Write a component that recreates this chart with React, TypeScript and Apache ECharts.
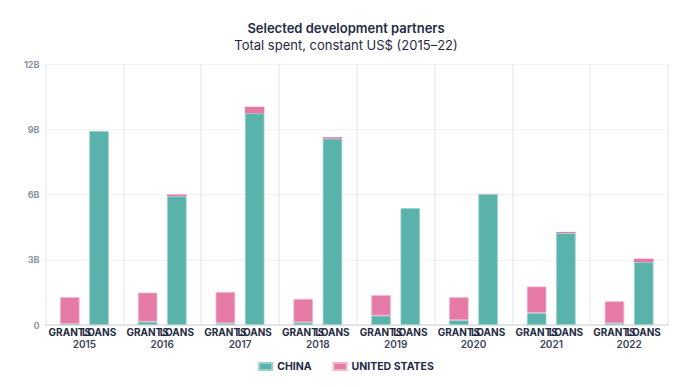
import React, { useEffect, useRef } from "react";
import * as echarts from "echarts";

const years = ["2015", "2016", "2017", "2018", "2019", "2020", "2021", "2022"];
const chinaGrants = [0.05, 0.15, 0.08, 0.12, 0.43, 0.22, 0.55, 0.08];
const usGrants = [1.23, 1.34, 1.44, 1.08, 0.94, 1.06, 1.22, 1.01];
const chinaLoans = [8.92, 5.92, 9.74, 8.57, 5.37, 6.02, 4.23, 2.89];
const usLoans = [0, 0.08, 0.29, 0.07, 0, 0.01, 0.05, 0.16];
const yTicks = [0, 3, 6, 9, 12];

const TEAL = "#5ab3aa";
const PINK = "#e67aa7";
const TEAL_EDGE = "#9ad0ca";
const PINK_EDGE = "#f3b3cd";
const FONT = "Inter, 'Noto Sans', sans-serif";

export default function App() {
  const ref = useRef<HTMLDivElement>(null);
  useEffect(() => {
    if (!ref.current) return;
    const chart = echarts.init(ref.current, null, { renderer: "svg" });
    const barBase = {
      type: "bar",
      barWidth: 19.5,
      barGap: "50%",
    };
    const subLabel = (text: string) => ({
      show: true,
      position: "bottom",
      distance: 2,
      formatter: text,
      color: "#1f2a44",
      fontFamily: FONT,
      fontWeight: 700,
      fontSize: 10,
    });
    const edge = (c: string) => ({ borderColor: c, borderWidth: 0.8 });
    chart.setOption({
      animation: false,
      title: {
        text: "Selected development partners",
        subtext: "Total spent, constant US$ (2015–22)",
        left: "center",
        top: 16,
        itemGap: 4,
        textStyle: { fontFamily: FONT, fontSize: 13, fontWeight: 600, color: "#1f2a44" },
        subtextStyle: { fontFamily: FONT, fontSize: 13, fontWeight: 400, color: "#1f2a44" },
      },
      legend: {
        top: 356,
        left: "center",
        itemWidth: 13,
        itemHeight: 7,
        itemGap: 21,
        icon: "rect",
        data: ["CHINA", "UNITED STATES"],
        textStyle: { fontFamily: FONT, fontSize: 10.5, fontWeight: 700, color: "#1f2a44" },
      },
      grid: { left: 45.5, right: 24, top: 64, bottom: 62, containLabel: false },
      xAxis: {
        type: "category",
        data: years,
        axisTick: { show: false },
        axisLine: { lineStyle: { color: "#dcdde1", width: 1.5 } },
        splitLine: { show: true, interval: 0, lineStyle: { color: "#ececef", width: 1.5 } },
        axisLabel: { margin: 14, fontFamily: FONT, fontSize: 10, fontWeight: 600, color: "#3b4458", interval: 0 },
      },
      yAxis: {
        type: "value",
        min: yTicks[0],
        max: yTicks[yTicks.length - 1],
        interval: 3,
        axisLine: { show: false },
        axisTick: { show: false },
        splitLine: { lineStyle: { color: "#e4e4e8", type: "dotted", width: 1 } },
        axisLabel: {
          margin: 6,
          fontFamily: FONT,
          fontSize: 9,
          fontWeight: 700,
          color: "#8c93a3",
          formatter: (v: number) => (v === 0 ? "0" : v + "B"),
        },
      },
      series: [
        { ...barBase, name: "CHINA", stack: "grants", data: chinaGrants, color: TEAL, itemStyle: edge(TEAL_EDGE), label: subLabel("GRANTS") },
        { ...barBase, name: "UNITED STATES", stack: "grants", data: usGrants, color: PINK, itemStyle: edge(PINK_EDGE) },
        { ...barBase, name: "CHINA", stack: "loans", data: chinaLoans, color: TEAL, itemStyle: edge(TEAL_EDGE), label: subLabel("LOANS") },
        { ...barBase, name: "UNITED STATES", stack: "loans", data: usLoans, color: PINK, itemStyle: { borderWidth: 0 } },
      ],
    });
    return () => chart.dispose();
  }, []);
  return (
    <div
      ref={ref}
      style={{ position: "fixed", left: 0, top: 0, width: 692, height: 387, background: "#fff" }}
    />
  );
}
